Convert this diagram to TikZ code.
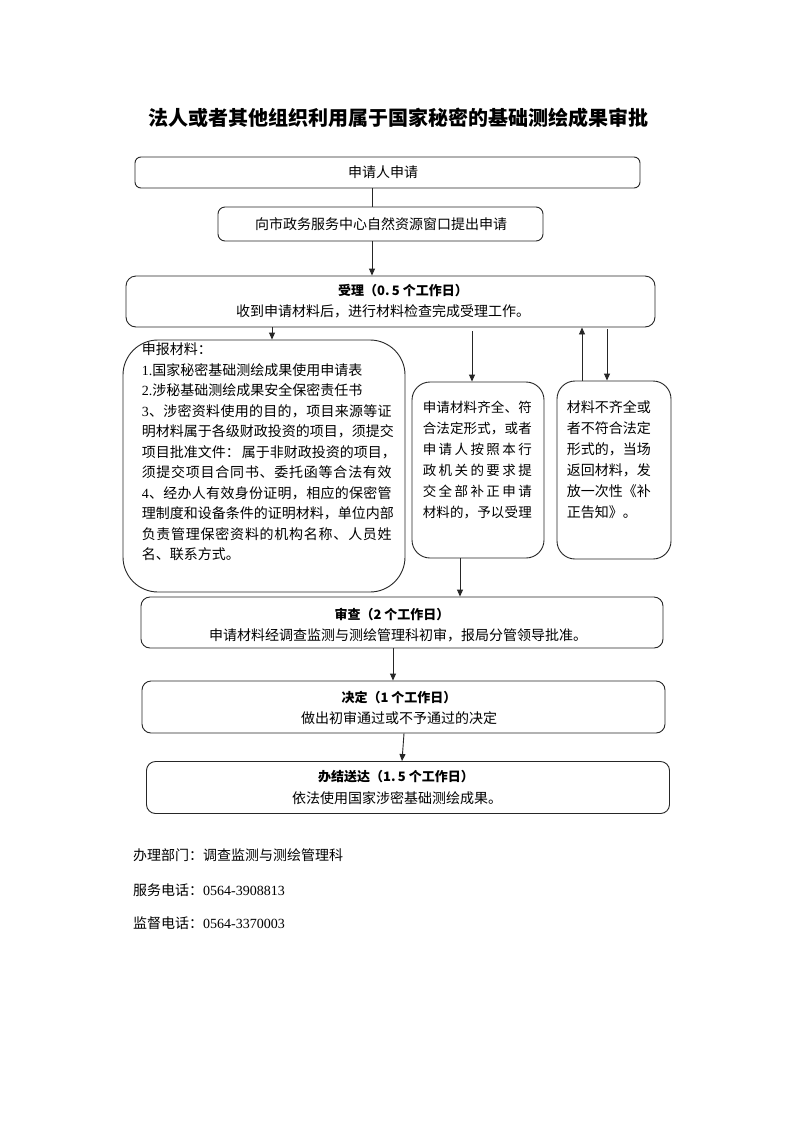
\documentclass[tikz,border=0pt]{standalone}
\usepackage{fontspec}
\setmainfont{Noto Sans CJK SC}
\newfontfamily\tnr{Liberation Serif}
\usetikzlibrary{arrows.meta,calc}
\def\sprdA#1{#1\sprdB}
\def\sprdB#1{\ifx#1\relax\else\hfil#1\expandafter\sprdB\fi}
\newcommand\jl[2]{\hbox to #1{\sprdA#2\relax}}
\newcommand\jlp[3]{\hbox to #1{{#2}\hfil\sprdA#3\relax}}
\tikzset{
  box/.style={draw=black!85, line width=0.9pt, inner sep=0pt},
  arr/.style={draw=black!85, line width=0.9pt, -{Triangle[length=7pt,width=6pt]}},
  ln/.style={draw=black!85, line width=0.9pt},
  body/.style={inner sep=0pt, font=\fontsize{14}{16}\selectfont},
  head/.style={inner sep=0pt, font=\bfseries\fontsize{13}{15}\selectfont},
}
\begin{document}
\begin{tikzpicture}[x=1pt,y=-1pt]
\path[use as bounding box, fill=white] (0,0) rectangle (793,1122);
% title
\node[inner sep=0pt, font=\bfseries\fontsize{20}{22}\selectfont] (title) at (398,118) {法人或者其他组织利用属于国家秘密的基础测绘成果审批};
% boxes
\node[box, rounded corners=6pt, minimum width=505pt, minimum height=31pt] (b1) at (387.5,172.5) {};
\node[body] (t1) at (383,172.5) {申请人申请};
\node[box, rounded corners=7pt, minimum width=325pt, minimum height=34pt] (b2) at (380.5,224) {};
\node[body] (t2) at (381,224) {向市政务服务中心自然资源窗口提出申请};
\node[box, rounded corners=10pt, minimum width=529pt, minimum height=51pt] (b3) at (390.5,301.5) {};
\node[head] (h3) at (403,291) {受理（0.\,5 个工作日）};
\node[body] (s3) at (383,311) {收到申请材料后，进行材料检查完成受理工作。};
\node[box, rounded corners=35pt, minimum width=282pt, minimum height=252pt] (L) at (264,466) {};
\node[box, rounded corners=18pt, minimum width=132pt, minimum height=176pt] (M) at (478,470) {};
\node[box, rounded corners=18pt, minimum width=114pt, minimum height=178pt] (R) at (614,470) {};
\node[body, anchor=north west, align=left, font=\fontsize{14}{20.5}\selectfont] (Lt) at ($(L.north west)+(19,3)$) {%
申报材料：\\
{\tnr 1.}国家秘密基础测绘成果使用申请表\\
{\tnr 2.}涉秘基础测绘成果安全保密责任书\\
\jlp{250pt}{\tnr 3}{、涉密资料使用的目的，项目来源等证}\\
\jl{250pt}{明材料属于各级财政投资的项目，须提交}\\
\jl{250pt}{项目批准文件：~属于非财政投资的项目，}\\
\jl{250pt}{须提交项目合同书、委托函等合法有效}\\
\jlp{250pt}{\tnr 4}{、经办人有效身份证明，相应的保密管}\\
\jl{250pt}{理制度和设备条件的证明材料，单位内部}\\
\jl{250pt}{负责管理保密资料的机构名称、人员姓}\\
名、联系方式。};
\node[body, anchor=north west, align=left, font=\fontsize{13.5}{21}\selectfont] (Mt) at ($(M.north west)+(11,19)$) {%
\jl{109pt}{申请材料齐全、符}\\
\jl{109pt}{合法定形式，或者}\\
\jl{109pt}{申请人按照本行}\\
\jl{109pt}{政机关的要求提}\\
\jl{109pt}{交全部补正申请}\\
\jl{109pt}{材料的，予以受理}};
\node[body, anchor=north west, align=left, font=\fontsize{14}{21}\selectfont] (Rt) at ($(R.north west)+(10,20)$) {%
材料不齐全或\\
者不符合法定\\
形式的，当场\\
返回材料，发\\
放一次性《补\\
正告知》。};
\node[box, rounded corners=9pt, minimum width=522pt, minimum height=51pt] (b4) at (402,622.5) {};
\node[head] (h4) at (392,615) {审查（2 个工作日）};
\node[body] (s4) at (398,635) {申请材料经调查监测与测绘管理科初审，报局分管领导批准。};
\node[box, rounded corners=9pt, minimum width=523pt, minimum height=52pt] (b5) at (403.5,707) {};
\node[head] (h5) at (399,698) {决定（1 个工作日）};
\node[body] (s5) at (399,718) {做出初审通过或不予通过的决定};
\node[box, rounded corners=9pt, minimum width=523pt, minimum height=52pt] (b6) at (408,787.5) {};
\node[head] (h6) at (396,777) {办结送达（1.\,5 个工作日）};
\node[body] (s6) at (397,798) {依法使用国家涉密基础测绘成果。};
% footer
\node[body, anchor=west] (f1) at (133,855) {办理部门：调查监测与测绘管理科};
\node[body, anchor=west] (f2) at (133,890) {服务电话：{\tnr 0564-3908813}};
\node[body, anchor=west] (f3) at (133,923) {监督电话：{\tnr 0564-3370003}};
% x positions for connectors
\coordinate (X272) at (272,0);
\coordinate (X372) at (372,0);
\coordinate (X393) at (393,0);
\coordinate (X402) at (402,0);
\coordinate (X404) at (404,0);
\coordinate (X460) at (460,0);
\coordinate (X472) at (472,0);
\coordinate (X582) at (582,0);
\coordinate (X607) at (607,0);
% connectors
\draw[ln] (b1.south -| X372) -- (b2.north -| X372);
\draw[arr] (b2.south -| X372) -- (b3.north -| X372);
\draw[arr] (b3.south -| X272) -- (L.north -| X272);
\draw[arr] ($(b3.south -| X472)+(0,4)$) -- (M.north -| X472);
\draw[arr] (R.north -| X582) -- (b3.south -| X582);
\draw[arr] ($(b3.south -| X607)+(0,2)$) -- (R.north -| X607);
\draw[arr] (M.south -| X460) -- (b4.north -| X460);
\draw[arr] (b4.south -| X393) -- (b5.north -| X393);
\draw[arr] (b5.south -| X404) -- (b6.north -| X402);
\end{tikzpicture}
\end{document}
